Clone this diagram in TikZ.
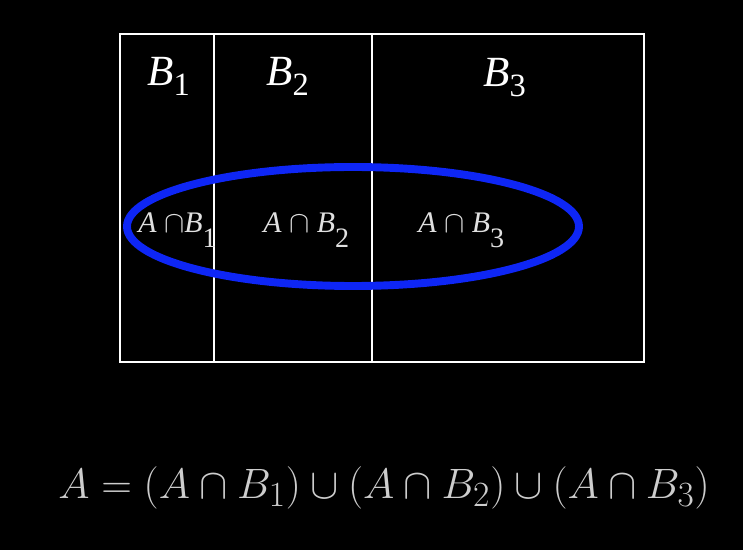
\documentclass[tikz,border=0pt]{standalone}
\usepackage[no-math]{fontspec}
\newfontfamily\setfont{Liberation Serif}
\definecolor{ovalblue}{RGB}{14,38,245}
\definecolor{lightgray}{HTML}{CDCDCD}
\usetikzlibrary{positioning}
\tikzset{
	setlabel/.style={font=\fontsize{24.5}{28}\setfont\itshape\color{white}, inner sep=0pt, anchor=base west}
}
\tikzset{
	partlabel/.style={font=\fontsize{17}{20}\setfont\color{white!88!black}, inner sep=0pt, anchor=base west}
}
\newcommand{\setsub}[1]{\raisebox{-5.5pt}{\fontsize{18.5}{20}\selectfont\upshape #1}}
\newcommand{\lowsub}[1]{\raisebox{-8.5pt}{\fontsize{16}{18}\selectfont #1}}

\begin{document}
\begin{tikzpicture}[x=0.02cm, y=-0.02cm]
      \fill[black] (0,0) rectangle (743,550);
      % sample space split into B1, B2, B3
      \draw[white, line width=1.5pt] (120,34) rectangle (644,362);
      \foreach \x in {214, 372}
        \draw[white, line width=1.5pt] (\x,34) -- (\x,362);
      \foreach \x/\y/\n/\l in {147/86/b1/1, 266/86/b2/2, 483/87/b3/3}
        \node[setlabel] (\n) at (\x,\y) {B\setsub{\l}};
      % event A
      \draw[ovalblue, line width=4.5pt] (353,226.5) ellipse [x radius=226, y radius=59.5];
      \node[partlabel] (ab1) at (138,233) {\textit{A} $\cap$\textit{B}\lowsub{1}};
      \node[partlabel] (ab2) at (263,233) {\textit{A} $\cap$ \textit{B}\lowsub{2}};
      \node[partlabel] (ab3) at (418,233) {\textit{A} $\cap$ \textit{B}\lowsub{3}};
      % total probability split
      \node[font=\fontsize{24.88}{30}\selectfont, text=lightgray, inner sep=0pt, anchor=base west] (eq) at (58,498)
        {\scalebox{0.972}{$A=(A\cap B_1)\cup(A\cap B_2)\cup(A\cap B_3)$}};
\end{tikzpicture}
\end{document}
